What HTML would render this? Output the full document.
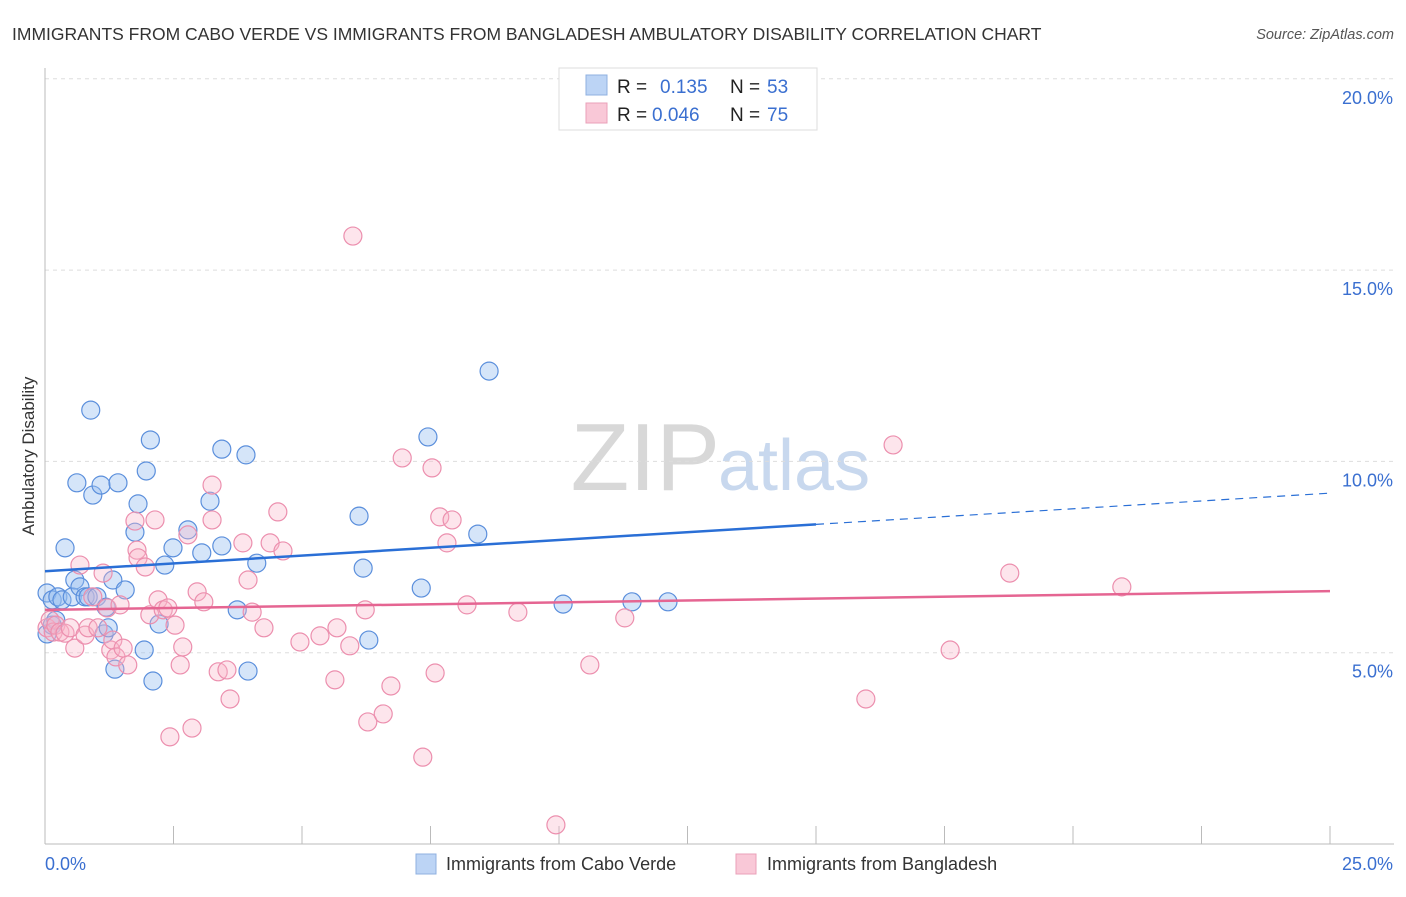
<!DOCTYPE html>
<html><head><meta charset="utf-8"><style>
body{margin:0;background:#fff;font-family:"Liberation Sans",sans-serif}
svg text{font-family:"Liberation Sans",sans-serif}
</style></head><body>
<svg id="chart" width="1406" height="892">
<text x="12" y="40" font-size="17.5" fill="#333">IMMIGRANTS FROM CABO VERDE VS IMMIGRANTS FROM BANGLADESH AMBULATORY DISABILITY CORRELATION CHART</text>
<text x="1394" y="39" font-size="14.5" fill="#555" font-style="italic" text-anchor="end">Source: ZipAtlas.com</text>
<text x="720" y="490" font-size="96" fill="#d8d8d8" text-anchor="end" font-family="Liberation Serif">ZIP</text>
<text x="718" y="490" font-size="72" fill="#c8d8ee">atlas</text>
<text transform="translate(34,456) rotate(-90)" font-size="17" fill="#333" text-anchor="middle">Ambulatory Disability</text>
<g id="grid"></g><g id="axes"></g><g id="pts"></g><g id="trend"></g>
<g>
<rect x="559" y="68" width="258" height="62" fill="#fff" stroke="#ddd"/>
<rect x="586" y="75" width="21" height="20" fill="#bcd4f5" stroke="#8fb0e0"/>
<rect x="586" y="103" width="21" height="20" fill="#f9c8d7" stroke="#eaa0b8"/>
<text x="617" y="93" font-size="19" fill="#222">R = </text><text x="660" y="93" font-size="19" fill="#3a6fd0">0.135</text>
<text x="730" y="93" font-size="19" fill="#222">N = </text><text x="767" y="93" font-size="19" fill="#3a6fd0">53</text>
<text x="617" y="121" font-size="19" fill="#222">R = </text><text x="652" y="121" font-size="19" fill="#3a6fd0">0.046</text>
<text x="730" y="121" font-size="19" fill="#222">N = </text><text x="767" y="121" font-size="19" fill="#3a6fd0">75</text>
</g>
<g>
<rect x="416" y="854" width="20" height="20" fill="#bcd4f5" stroke="#8fb0e0"/>
<text x="446" y="870" font-size="18" fill="#333">Immigrants from Cabo Verde</text>
<rect x="736" y="854" width="20" height="20" fill="#f9c8d7" stroke="#eaa0b8"/>
<text x="767" y="870" font-size="18" fill="#333">Immigrants from Bangladesh</text>
</g>
</svg>
<script>
const blueX=[0.04,0.14,0.25,0.33,0.39,0.53,0.58,0.62,0.68,0.78,0.84,0.89,0.93,1.01,1.09,1.15,1.19,1.23,1.32,1.36,1.42,1.56,1.75,1.81,1.93,1.97,2.05,2.1,2.22,2.33,2.49,2.78,3.05,3.21,3.44,3.44,3.74,3.91,3.95,4.12,6.11,6.19,6.3,7.32,7.45,8.42,8.64,10.08,11.42,12.12,0.04,0.14,0.21];
const blueY=[6.56,6.38,6.46,6.38,7.74,6.46,6.9,9.44,6.72,6.46,6.46,11.34,9.12,6.46,9.38,5.49,6.19,5.65,6.9,4.57,9.44,6.64,8.15,8.89,5.07,9.75,10.56,4.26,5.75,7.29,7.74,8.21,7.61,8.96,10.32,7.79,6.12,10.17,4.52,7.34,8.57,7.21,5.33,6.69,10.64,8.1,12.36,6.27,6.33,6.33,5.49,5.72,5.85];
const pinkX=[0.04,0.1,0.16,0.21,0.29,0.39,0.49,0.58,0.68,0.78,0.84,0.93,1.03,1.13,1.21,1.28,1.32,1.38,1.46,1.52,1.61,1.75,1.79,1.81,1.95,2.04,2.14,2.2,2.3,2.39,2.43,2.53,2.63,2.68,2.78,2.86,2.96,3.09,3.25,3.25,3.37,3.54,3.6,3.85,3.95,4.03,4.26,4.38,4.53,4.63,4.96,5.35,5.64,5.68,5.93,5.99,6.23,6.28,6.58,6.73,6.95,7.35,7.53,7.59,7.68,7.82,7.92,8.21,9.2,10.6,11.28,15.97,16.5,17.61,18.77,20.95,9.94];
const pinkY=[5.65,5.85,5.54,5.72,5.54,5.51,5.65,5.12,7.29,5.46,5.65,6.46,5.65,7.08,6.17,5.07,5.33,4.89,6.25,5.12,4.68,8.44,7.68,7.48,7.24,5.99,8.47,6.38,6.12,6.17,2.8,5.72,4.68,5.15,8.08,3.03,6.59,6.33,8.47,9.38,4.5,4.55,3.79,7.87,6.9,6.06,5.65,7.87,8.68,7.66,5.28,5.44,4.29,5.65,5.18,15.89,6.12,3.19,3.4,4.13,10.09,2.27,9.83,4.47,8.55,7.87,8.47,6.25,6.06,4.68,5.91,3.79,10.43,5.07,7.08,6.72,0.5];
const blueTrend=[7.13,9.17];
const pinkTrend=[6.12,6.61];
const yTicks=[5,10,15,20];
const yTickLabels=["5.0%","10.0%","15.0%","20.0%"];
const xTicks=[0,2.5,5,7.5,10,12.5,15,17.5,20,22.5,25];
const NS="http://www.w3.org/2000/svg";
const sx=v=>45+v*1285/25, sy=v=>844-v*38.26;
function mk(p,t,a){const e=document.createElementNS(NS,t);for(const k in a)e.setAttribute(k,a[k]);p.appendChild(e);return e;}
const grid=document.getElementById('grid'),axes=document.getElementById('axes'),pts=document.getElementById('pts'),tr=document.getElementById('trend');
yTicks.forEach((v,i)=>{const l=mk(grid,'line',{x1:45,x2:1394,y1:sy(v),y2:sy(v),stroke:'#ddd','stroke-dasharray':'4,4'});


const t=mk(axes,'text',{x:1393,y:sy(v)+25,'font-size':18,fill:'#3a6fd0','text-anchor':'end'});t.textContent=yTickLabels[i];

});
const ax=mk(axes,'line',{x1:45,x2:1394,y1:844,y2:844,stroke:'#bbb'});


const ay=mk(axes,'line',{x1:45,x2:45,y1:68,y2:844,stroke:'#bbb'});


xTicks.forEach(v=>{const l=mk(axes,'line',{x1:sx(v),x2:sx(v),y1:826,y2:844,stroke:'#bbb'});

});
const x0=mk(axes,'text',{x:45,y:870,'font-size':18,fill:'#3a6fd0'});x0.textContent='0.0%';


const x1=mk(axes,'text',{x:1393,y:870,'font-size':18,fill:'#3a6fd0','text-anchor':'end'});x1.textContent='25.0%';


blueX.forEach((v,i)=>{const c=mk(pts,'circle',{cx:sx(v),cy:sy(blueY[i]),r:9,fill:'rgba(150,190,240,0.4)',stroke:'#5b8fdc','stroke-width':1.2});

});
pinkX.forEach((v,i)=>{const c=mk(pts,'circle',{cx:sx(v),cy:sy(pinkY[i]),r:9,fill:'rgba(248,180,200,0.35)',stroke:'#ec8fae','stroke-width':1.2});

});
const bAt=x=>blueTrend[0]+(blueTrend[1]-blueTrend[0])*x/25;
const b1=mk(tr,'line',{x1:sx(0),y1:sy(bAt(0)),x2:sx(15),y2:sy(bAt(15)),stroke:'#2a6fd6','stroke-width':2.5});


const b2=mk(tr,'line',{x1:sx(15),y1:sy(bAt(15)),x2:sx(25),y2:sy(bAt(25)),stroke:'#2a6fd6','stroke-width':1.2,'stroke-dasharray':'8,6'});


const p1=mk(tr,'line',{x1:sx(0),y1:sy(pinkTrend[0]),x2:sx(25),y2:sy(pinkTrend[1]),stroke:'#e56592','stroke-width':2.5});


</script>
</body></html>
